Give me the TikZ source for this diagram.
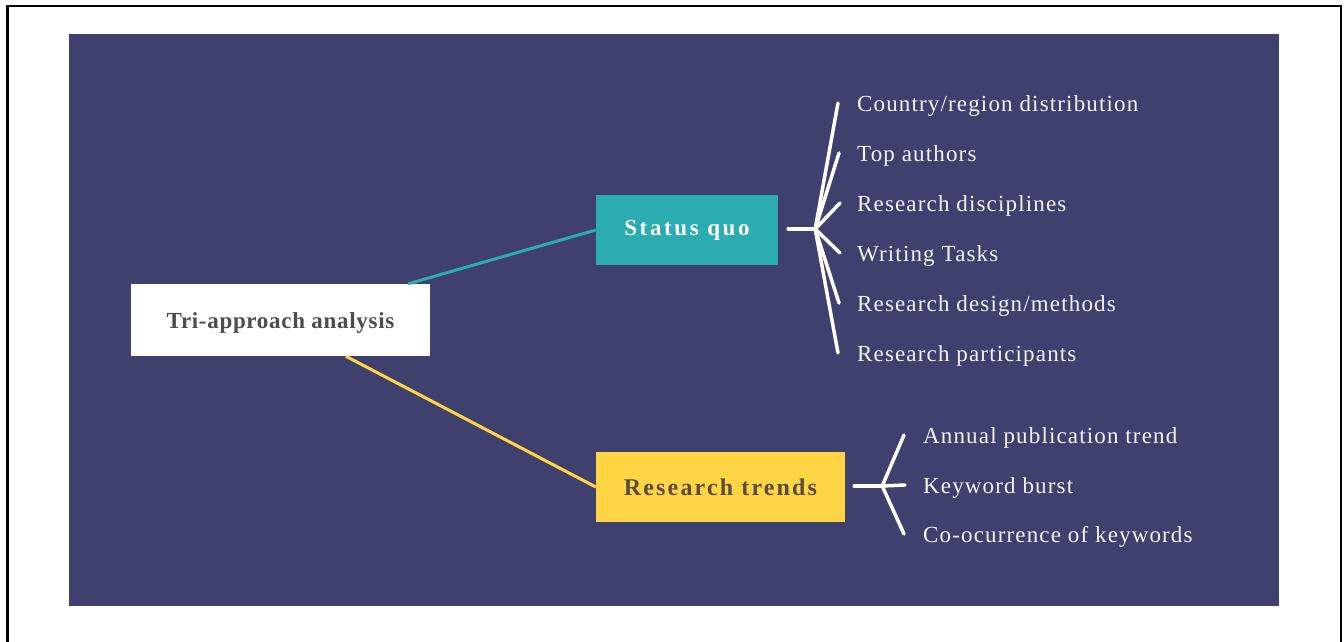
\documentclass[tikz,border=0pt]{standalone}
\usepackage{fontspec}
\usetikzlibrary{calc}
\setmainfont{Liberation Serif}
\newfontfamily\itemfont[LetterSpace=5]{Liberation Serif}
\newfontfamily\trifont[LetterSpace=3]{Liberation Serif}
\newfontfamily\sqfont[LetterSpace=11.5]{Liberation Serif}
\newfontfamily\rtfont[LetterSpace=9]{Liberation Serif}
\definecolor{bgblue}{HTML}{40406E}
\definecolor{tealc}{HTML}{2AACB0}
\definecolor{yelc}{HTML}{FFD546}
\definecolor{darktext}{HTML}{4D4D4D}
\definecolor{trendtext}{HTML}{5C4B3F}
\definecolor{itemtext}{HTML}{F2F2F2}
\tikzset{
  mainbox/.style={rectangle, inner sep=0pt, minimum height=70pt},
  itemlabel/.style={anchor=base west, inner sep=0pt, text=itemtext, font=\itemfont\fontsize{23}{27}\selectfont},
  branch/.style={white, line width=3.5pt, line cap=round},
}
\begin{document}
\begin{tikzpicture}[x=1pt,y=-1pt]
\useasboundingbox (0,0) rectangle (1344,642);
\draw[line width=2.5pt] (7.3,660) -- (7.3,6) -- (1341,6) -- (1341,660);
\fill[bgblue] (69,34) rectangle (1279,606);

\node[mainbox, fill=white, minimum width=299pt, minimum height=72pt, text=darktext,
      font=\trifont\bfseries\fontsize{23}{27}\selectfont] (tri) at (280.5,320)
      {\raisebox{-8pt}[0pt][0pt]{Tri-approach analysis}};
\node[mainbox, fill=tealc, minimum width=182pt, text=white,
      font=\sqfont\bfseries\fontsize{23}{27}\selectfont] (sq) at (687,230) {Status quo};
\node[mainbox, fill=yelc, minimum width=249pt, text=trendtext,
      font=\rtfont\bfseries\fontsize{24}{28}\selectfont] (rt) at (720.5,487) {Research trends};

\draw[tealc, line width=3pt] ($(tri.north east)+(-22,0)$) -- (sq.west);
\draw[yelc, line width=3pt] ($(tri.south west)+(215,0)$) -- (rt.west);

% status quo items
\node[itemlabel] (i1) at (857,111) {Country/region distribution};
\node[itemlabel] (i2) at (857,161) {Top authors};
\node[itemlabel] (i3) at (857,211) {Research disciplines};
\node[itemlabel] (i4) at (857,261) {Writing Tasks};
\node[itemlabel] (i5) at (857,311) {Research design/methods};
\node[itemlabel] (i6) at (857,361) {Research participants};

\coordinate (sqs) at ($(sq.east)+(10,-1)$);
\coordinate (sqh) at ($(sq.east)+(37,-1)$);
\coordinate (e1) at ($(i1.base west)+(-19,-8)$);
\coordinate (e2) at ($(i2.base west)+(-18,-8)$);
\coordinate (e3) at ($(i3.base west)+(-17,-8)$);
\coordinate (e4) at ($(i4.base west)+(-17,-8)$);
\coordinate (e5) at ($(i5.base west)+(-18,-8)$);
\coordinate (e6) at ($(i6.base west)+(-19,-8)$);
\draw[branch] (sqs) -- (sqh);
\foreach \e in {e1,e2,e3,e4,e5,e6} \draw[branch] (sqh) -- (\e);

% research trend items
\node[itemlabel] (j1) at (923,443) {Annual publication trend};
\node[itemlabel] (j2) at (923,493) {Keyword burst};
\node[itemlabel] (j3) at (923,542) {Co-ocurrence of keywords};

\coordinate (rts) at ($(rt.east)+(9,-1)$);
\coordinate (rth) at ($(rt.east)+(37,-1)$);
\coordinate (f1) at ($(j1.base west)+(-19,-8)$);
\coordinate (f2) at ($(j2.base west)+(-18,-8)$);
\coordinate (f3) at ($(j3.base west)+(-19,-8)$);
\draw[branch] (rts) -- (rth);
\foreach \e in {f1,f2,f3} \draw[branch] (rth) -- (\e);
\end{tikzpicture}
\end{document}
